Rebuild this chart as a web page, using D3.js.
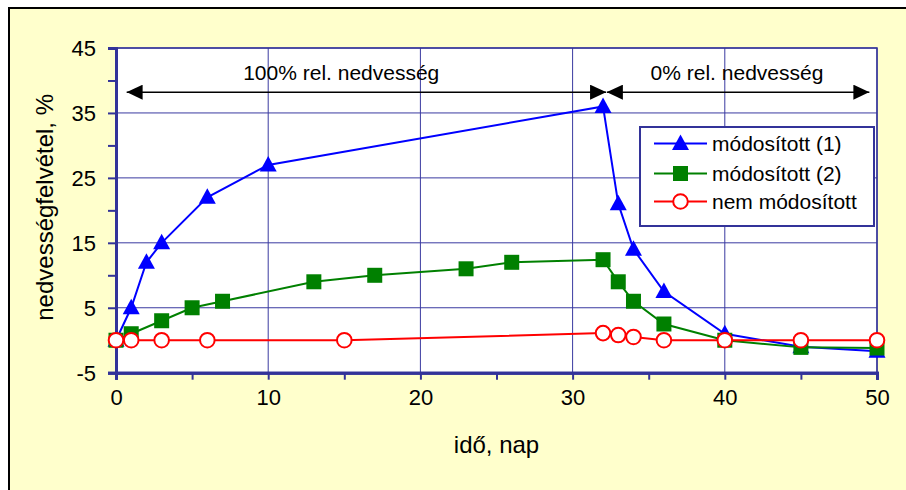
<!DOCTYPE html>
<html>
<head>
<meta charset="utf-8">
<script src="https://cdn.jsdelivr.net/npm/d3@7"></script>
<style>
  html, body { margin: 0; padding: 0; background: #ffffff; }
  svg { display: block; font-family: "Liberation Sans", Arial, sans-serif; }
</style>
</head>
<body>
<svg id="chart" width="906" height="490"></svg>
<script>
// ---- data ----
const xTicks = [0, 10, 20, 30, 40, 50];
const xMinorTicks = [5, 15, 25, 35, 45];
const yTicks = [-5, 5, 15, 25, 35, 45];
const yMinorTicks = [0, 10, 20, 30, 40];

const mod1X = [0, 1, 2, 3, 6, 10, 32, 33, 34, 36, 40, 45, 50];
const mod1Y = [0, 5, 12, 15, 22, 27, 36, 21, 14, 7.5, 1, -1, -1.7];

const mod2X = [0, 1, 3, 5, 7, 13, 17, 23, 26, 32, 33, 34, 36, 40, 45, 50];
const mod2Y = [0, 1, 3, 5, 6, 9, 10, 11, 12, 12.4, 9, 6, 2.5, 0, -1.1, -1.2];

const nemX = [0, 1, 3, 6, 15, 32, 33, 34, 36, 40, 45, 50];
const nemY = [0, 0, 0, 0, 0, 1.1, 0.8, 0.5, 0, 0, 0, 0];

const seriesNames = ["módosított (1)", "módosított (2)", "nem módosított"];
const xTitle = "idő, nap";
const yTitle = "nedvességfelvétel, %";

const arrowLabels = ["100% rel. nedvesség", "0% rel. nedvesség"];
const arrowFrom = [0.7, 32.25];
const arrowTo = [32.2, 49.5];
const arrowY = 38.2;
const arrowLabelX = [14.8, 40.8];
const arrowLabelY = 40;

// ---- layout ----
const svg = d3.select("#chart");
const x = d3.scaleLinear().domain([0, 50]).range([116, 877]);
const y = d3.scaleLinear().domain([-5, 45]).range([372.7, 48]);
const axisColor = "#333399";
const gridColor = "#3a3aa0";

// outer frame
svg.append("rect").attr("x", 9).attr("y", 8).attr("width", 906).attr("height", 500)
  .attr("fill", "#FFFFCC").attr("stroke", "#000").attr("stroke-width", 2);

// plot area
svg.append("rect").attr("x", x(0)).attr("y", y(45))
  .attr("width", x(50) - x(0)).attr("height", y(-5) - y(45))
  .attr("fill", "#fff");

const grid = svg.append("g");
grid.selectAll("line.h").data(yTicks).join("line")
  .attr("x1", x(0)).attr("x2", x(50))
  .attr("y1", d => y(d)).attr("y2", d => y(d))
  .attr("stroke", gridColor).attr("stroke-width", 1);
grid.selectAll("line.v").data(xTicks).join("line")
  .attr("class", "v")
  .attr("y1", y(-5)).attr("y2", y(45))
  .attr("x1", d => x(d)).attr("x2", d => x(d))
  .attr("stroke", gridColor).attr("stroke-width", 1);

// plot border (top/right)
svg.append("rect").attr("x", x(0)).attr("y", y(45))
  .attr("width", x(50) - x(0)).attr("height", y(-5) - y(45))
  .attr("fill", "none").attr("stroke", axisColor).attr("stroke-width", 1.5);

// axes
const fmt = d => String(d);
const xAxis = d3.axisBottom(x).tickValues(xTicks).tickSize(7).tickPadding(10).tickFormat(fmt);
const xAxisMinor = d3.axisBottom(x).tickValues(xMinorTicks).tickSize(7).tickFormat("");
const yAxis = d3.axisLeft(y).tickValues(yTicks).tickSize(8).tickPadding(12).tickFormat(fmt);
const yAxisMinor = d3.axisLeft(y).tickValues(yMinorTicks).tickSize(8).tickFormat("");

function styleAxis(g) {
  g.select(".domain").attr("stroke", axisColor).attr("stroke-width", 3);
  g.selectAll(".tick line").attr("stroke", axisColor).attr("stroke-width", 2);
  g.selectAll(".tick text").attr("fill", "#000").style("font-size", "22px")
    .style("font-family", "'Liberation Sans', Arial, sans-serif");
}
svg.append("g").attr("transform", `translate(0,${y(-5)})`).call(xAxisMinor).call(styleAxis);
svg.append("g").attr("transform", `translate(0,${y(-5)})`).call(xAxis).call(styleAxis);
svg.append("g").attr("transform", `translate(${x(0)},0)`).call(yAxisMinor).call(styleAxis);
svg.append("g").attr("transform", `translate(${x(0)},0)`).call(yAxis).call(styleAxis)
  .selectAll(".tick text").attr("dy", "0.36em");

// axis titles
svg.append("text").attr("x", (x(0) + x(50)) / 2).attr("y", 453)
  .attr("text-anchor", "middle").style("font-size", "24px").text(xTitle);
svg.append("text").attr("transform", `translate(53,${(y(-5) + y(45)) / 2 - 3}) rotate(-90)`)
  .attr("text-anchor", "middle").style("font-size", "24px").text(yTitle);

// arrows
svg.append("defs").append("marker").attr("id", "ah")
  .attr("viewBox", "0 0 16 15").attr("refX", 16).attr("refY", 7.5)
  .attr("markerWidth", 16).attr("markerHeight", 15).attr("markerUnits", "userSpaceOnUse")
  .attr("orient", "auto-start-reverse")
  .append("path").attr("d", "M0,0 L16,7.5 L0,15 Z").attr("fill", "#000");

arrowFrom.forEach((a, i) => {
  svg.append("line").attr("x1", x(a)).attr("x2", x(arrowTo[i]))
    .attr("y1", y(arrowY)).attr("y2", y(arrowY))
    .attr("stroke", "#000").attr("stroke-width", 1.5)
    .attr("marker-start", "url(#ah)").attr("marker-end", "url(#ah)");
  svg.append("text").attr("x", x(arrowLabelX[i])).attr("y", y(arrowLabelY))
    .attr("text-anchor", "middle").style("font-size", "21px").text(arrowLabels[i]);
});

// series
const series = [
  { xs: mod1X, ys: mod1Y, color: "#0000FF", marker: "triangle" },
  { xs: mod2X, ys: mod2Y, color: "#008000", marker: "square" },
  { xs: nemX, ys: nemY, color: "#FF0000", marker: "circle" }
];
const line = d3.line().x(d => x(d[0])).y(d => y(d[1]));

function drawMarker(g, m, color) {
  if (m === "triangle") {
    g.append("path").attr("d", "M0,-9 L8.5,6.5 L-8.5,6.5 Z").attr("fill", color);
  } else if (m === "square") {
    g.append("rect").attr("x", -7.5).attr("y", -7.5).attr("width", 15).attr("height", 15).attr("fill", color);
  } else {
    g.append("circle").attr("r", 7.3).attr("fill", "#fff").attr("stroke", color).attr("stroke-width", 2);
  }
}

series.forEach(s => {
  const pts = s.xs.map((v, i) => [v, s.ys[i]]);
  svg.append("path").datum(pts).attr("d", line)
    .attr("fill", "none").attr("stroke", s.color).attr("stroke-width", 2);
});
series.forEach(s => {
  s.xs.forEach((v, i) => {
    const g = svg.append("g").attr("transform", `translate(${x(v)},${y(s.ys[i])})`);
    drawMarker(g, s.marker, s.color);
  });
});

// legend
const lg = svg.append("g");
lg.append("rect").attr("x", 640).attr("y", 127).attr("width", 234).attr("height", 99)
  .attr("fill", "#fff").attr("stroke", axisColor).attr("stroke-width", 2);
const rowY = [143.5, 173.5, 201.5];
series.forEach((s, i) => {
  lg.append("line").attr("x1", 654).attr("x2", 707).attr("y1", rowY[i]).attr("y2", rowY[i])
    .attr("stroke", s.color).attr("stroke-width", 2);
  const g = lg.append("g").attr("transform", `translate(680.5,${rowY[i]})`);
  drawMarker(g, s.marker, s.color);
  lg.append("text").attr("x", 712).attr("y", rowY[i] + 7.5)
    .style("font-size", "21px").text(seriesNames[i]);
});
</script>
</body>
</html>
